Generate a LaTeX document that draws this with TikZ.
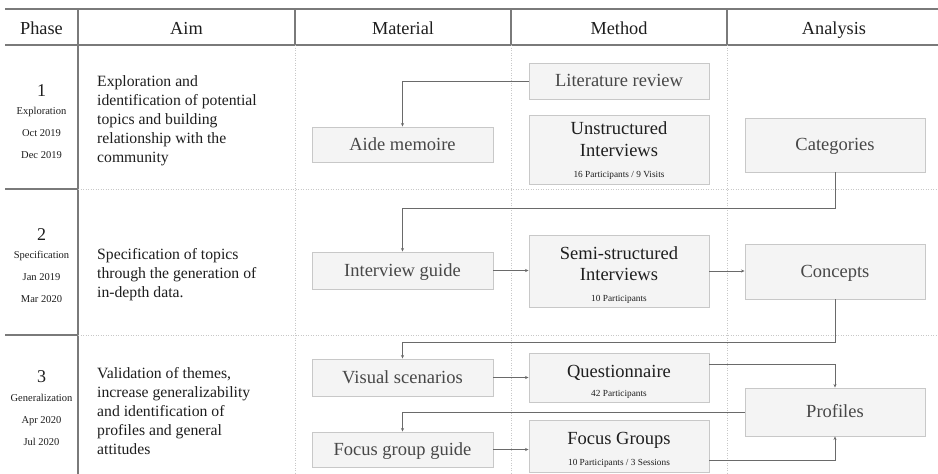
\documentclass[tikz,border=0pt]{standalone}
\usepackage{fontspec}
\setmainfont{Liberation Serif}
\usetikzlibrary{arrows.meta}
\definecolor{boxfill}{HTML}{F4F4F4}
\definecolor{boxdraw}{HTML}{C8C8C8}
\definecolor{rulec}{HTML}{7A7A7A}
\definecolor{dotc}{HTML}{C8C8C8}
\definecolor{connc}{HTML}{6A6A6A}
\definecolor{txtgray}{HTML}{474747}
\definecolor{txtdark}{HTML}{1E1E1E}
\newcommand\bxfont{\fontsize{18.5}{23}\selectfont}
\newcommand\smfont{\fontsize{9.3}{11}\selectfont}
\newcommand\aimfont{\fontsize{15.7}{19}\selectfont}
\newcommand\hdfont{\fontsize{18.3}{22}\selectfont}
\newcommand\phnfont{\fontsize{18}{22}\selectfont}
\newcommand\phsfont{\fontsize{10.5}{12}\selectfont}
\begin{document}
\begin{tikzpicture}[x=1pt,y=-1pt,
  box/.style={draw=boxdraw, fill=boxfill, line width=0.9pt, inner sep=0pt, align=center, text=txtgray, font=\bxfont, text height=11.5pt, text depth=0pt},
  dbox/.style={box, text=txtdark},
  btxt/.style={inner sep=0pt, align=center, text=txtdark, font=\bxfont},
  rule/.style={draw=rulec, line width=1.1pt},
  dotrule/.style={draw=dotc, line width=0.7pt, dash pattern=on 1pt off 1.5pt},
  conn/.style={draw=connc, line width=0.9pt, -{Stealth[length=3.5pt,width=3pt]}},
  hdr/.style={font=\hdfont, text=txtdark, inner sep=0pt, text height=12pt, text depth=0pt},
  aim/.style={font=\aimfont, text=txtdark, align=left, anchor=west, inner sep=0pt},
  phn/.style={font=\phnfont, text=txtdark, inner sep=0pt, text height=12pt, text depth=0pt},
  phs/.style={font=\phsfont, text=txtdark, inner sep=0pt, text height=6.8pt, text depth=0pt}
]
\useasboundingbox (0,0) rectangle (938,474);
\fill[white] (0,0) rectangle (938,474);

% table rules
\draw[rule] (5,9) -- (938,9);
\draw[rule] (5,45) -- (938,45);
\draw[rule] (78,9) -- (78,474);
\draw[rule] (295,9) -- (295,45);
\draw[rule] (511,9) -- (511,45);
\draw[rule] (727,9) -- (727,45);
\draw[rule] (5,189) -- (78,189);
\draw[rule] (5,335) -- (78,335);
\draw[dotrule] (295,45) -- (295,474);
\draw[dotrule] (511,45) -- (511,474);
\draw[dotrule] (727,45) -- (727,474);
\draw[dotrule] (78,189) -- (938,189);
\draw[dotrule] (78,335) -- (938,335);

% headers
\node[hdr] (hphase) at (41.5,28) {Phase};
\node[hdr] (haim) at (186.5,28) {Aim};
\node[hdr] (hmat) at (403,28) {Material};
\node[hdr] (hmeth) at (619,28) {Method};
\node[hdr] (hana) at (834,28) {Analysis};

% phase column
\node[phn] (p1n) at (41.5,90) {1};
\node[phs] (p1a) at (41.5,111) {Exploration};
\node[phs] (p1b) at (41.5,133) {Oct 2019};
\node[phs] (p1c) at (41.5,155) {Dec 2019};
\node[phn] (p2n) at (41.5,234) {2};
\node[phs] (p2a) at (41.5,255) {Specification};
\node[phs] (p2b) at (41.5,277) {Jan 2019};
\node[phs] (p2c) at (41.5,299) {Mar 2020};
\node[phn] (p3n) at (41.5,376) {3};
\node[phs] (p3a) at (41.5,398) {Generalization};
\node[phs] (p3b) at (41.5,420) {Apr 2020};
\node[phs] (p3c) at (41.5,442) {Jul 2020};

% aims
\node[aim] (a1) at (97,121) {Exploration and\\identification of potential\\topics and building\\relationship with the\\community};
\node[aim] (a2) at (97,275) {Specification of topics\\through the generation of\\in-depth data.};
\node[aim] (a3) at (97,411) {Validation of themes,\\increase generalizability\\and identification of\\profiles and general\\attitudes};

% boxes
\node[box, minimum width=180pt, minimum height=36pt] (lit) at (619,81) {Literature review};
\node[dbox, minimum width=180pt, minimum height=69pt] (unstr) at (619,149.5) {};
\node[btxt] (unstrt) at (619,150.5) {Unstructured\\[-1pt]Interviews\\[-2pt]{\smfont 16 Participants / 9 Visits}};
\node[box, minimum width=181pt, minimum height=35pt] (aide) at (402.5,144.5) {Aide memoire};
\node[box, minimum width=180pt, minimum height=54pt] (cat) at (835,145) {Categories};

\node[box, minimum width=181pt, minimum height=37pt] (ig) at (402.5,270.5) {Interview guide};
\node[dbox, minimum width=180pt, minimum height=72pt] (semi) at (619,271) {};
\node[btxt] (semit) at (619,275) {Semi-structured\\[-2pt]Interviews\\[-2pt]{\smfont 10 Participants}};
\node[box, minimum width=180pt, minimum height=55pt] (conc) at (835,271.5) {Concepts};

\node[box, minimum width=181pt, minimum height=37pt] (vis) at (402.5,377.5) {Visual scenarios};
\node[dbox, minimum width=180pt, minimum height=49pt] (quest) at (619,377.5) {};
\node[btxt] (questt) at (619,382) {Questionnaire\\[-4pt]{\smfont 42 Participants}};
\node[box, minimum width=180pt, minimum height=48pt] (prof) at (835,412) {Profiles};
\node[box, minimum width=181pt, minimum height=35pt] (fgg) at (402.5,449.5) {Focus group guide};
\node[dbox, minimum width=180pt, minimum height=52pt] (fg) at (619,446) {};
\node[btxt] (fgt) at (619,450) {Focus Groups\\[-2pt]{\smfont 10 Participants / 3 Sessions}};

% connectors
\coordinate (k1) at (835,208);
\coordinate (k2) at (835,342);
\draw[conn] (lit.west) -| (aide.north);
\draw[conn] (cat.south) -- (k1) -| (ig.north);
\draw[conn] (ig.east) -- (ig.east -| semi.west);
\draw[conn] (semi.east) -- (semi.east -| conc.west);
\draw[conn] (conc.south) -- (k2) -| (vis.north);
\draw[conn] (vis.east) -- (vis.east -| quest.west);
\draw[conn] ([yshift=13.5pt]quest.east) -| (prof.north);
\draw[conn] ([yshift=-14pt]fg.east) -| (prof.south);
\draw[conn] (prof.west) -| (fgg.north);
\draw[conn] (fgg.east) -- (fgg.east -| fg.west);
\end{tikzpicture}
\end{document}
